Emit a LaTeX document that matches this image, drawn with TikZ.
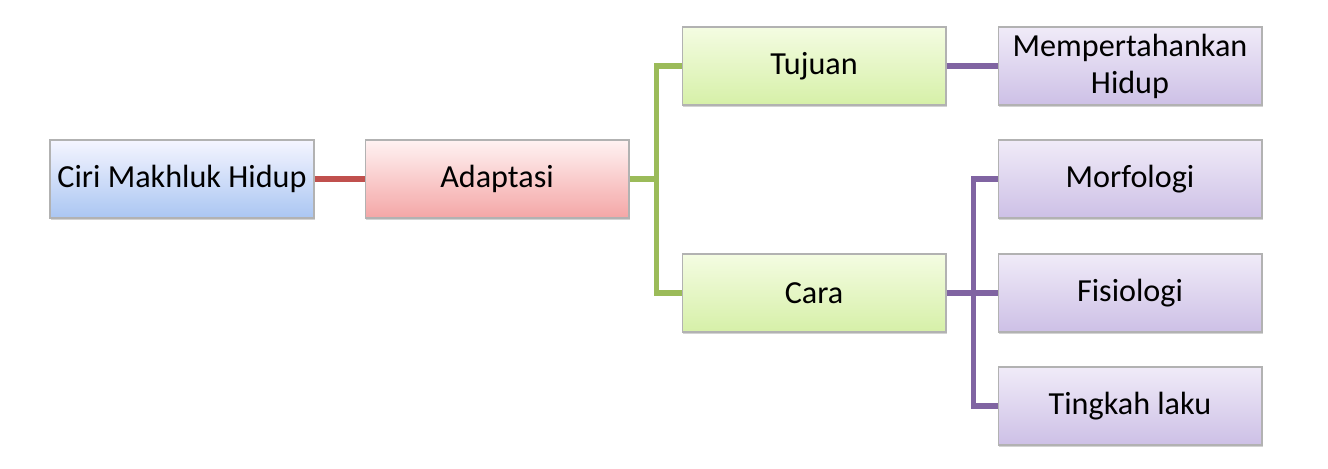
\documentclass[tikz,border=0pt]{standalone}
\usepackage{fontspec}
\setmainfont{Carlito}
\usetikzlibrary{shadows}

\begin{document}
\begin{tikzpicture}[x=0.02cm,y=-0.02cm]
\tikzset{box/.style = {rectangle, draw=black!30, line width=0.6pt, minimum width=5.28cm, minimum height=1.56cm, inner sep=2pt, align=center, font=\fontsize{18.3}{21}\selectfont, text=black, drop shadow={shadow xshift=0.5pt, shadow yshift=-1.2pt, opacity=0.35}},
  bluebox/.style = {box, top color=blue!4!white, bottom color={rgb,255:red,170;green,198;blue,242}},
  redbox/.style = {box, top color=red!5!white, bottom color={rgb,255:red,244;green,166;blue,166}},
  greenbox/.style = {box, top color={rgb,255:red,244;green,252;blue,226}, bottom color={rgb,255:red,214;green,240;blue,168}},
  purplebox/.style = {box, top color={rgb,255:red,240;green,235;blue,248}, bottom color={rgb,255:red,205;green,192;blue,230}},
  link/.style = {line width=2.9pt}}
\definecolor{linkred}{RGB}{192,80,77}
\definecolor{linkgreen}{RGB}{155,187,89}
\definecolor{linkpurple}{RGB}{128,100,162}
\useasboundingbox (0,0) rectangle (1328,469);

\node[bluebox] (ciri) at (182,179) {Ciri Makhluk Hidup};
\node[redbox] (adaptasi) at (497,179) {Adaptasi};
\node[greenbox] (tujuan) at (814,66) {Tujuan};
\node[greenbox] (cara) at (814,293) {Cara};
\node[purplebox] (hidup) at (1130,66) {Mempertahankan\\Hidup};
\node[purplebox] (morfologi) at (1130,179) {Morfologi};
\node[purplebox] (fisiologi) at (1130,293) {Fisiologi};
\node[purplebox] (tingkah) at (1130,406) {Tingkah laku};

\draw[link, linkred] (ciri) -- (adaptasi);
\draw[link, linkgreen] (adaptasi.east) -- ++(27,0) |- (tujuan.west) (adaptasi.east) -- ++(27,0) |- (cara.west);
\draw[link, linkpurple] (tujuan) -- (hidup);
\draw[link, linkpurple] (cara.east) -- ++(27,0) |- (morfologi.west) (cara.east) -- ++(27,0) |- (tingkah.west) (cara) -- (fisiologi);
\end{tikzpicture}
\end{document}
